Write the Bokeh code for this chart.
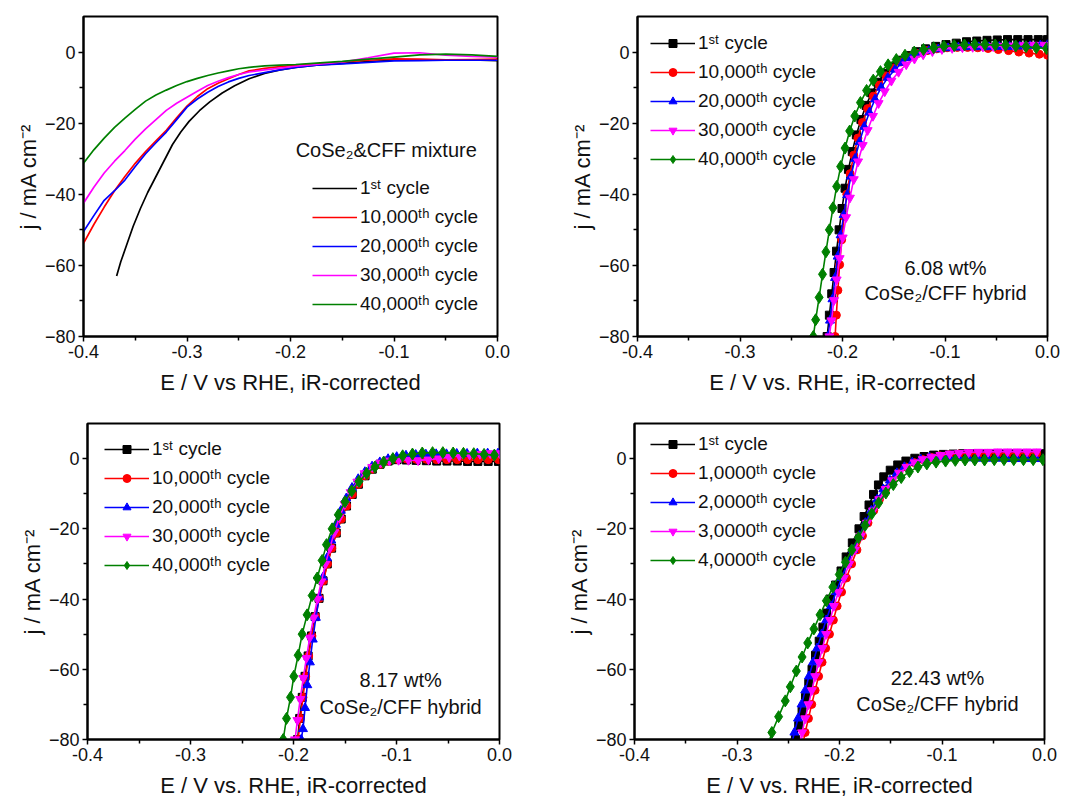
from bokeh.plotting import figure
from bokeh.models import Range1d, FixedTicker, NumeralTickFormatter, Legend, LegendItem, Label
from bokeh.layouts import column, row
from bokeh.embed import file_html
from bokeh.resources import INLINE

FONT = "Liberation Sans"

# ---------------- texts ----------------
x_label_a = "E / V vs RHE, iR-corrected"
x_label_b = "E / V vs. RHE, iR-corrected"
y_label = "j / mA cm⁻²"
x_ticks = [-0.4, -0.3, -0.2, -0.1, 0.0]
x_minor = [-0.35, -0.25, -0.15, -0.05]
y_ticks = [-80, -60, -40, -20, 0]
y_minor = [-70, -50, -30, -10]

labels_std = ["1ˢᵗ cycle", "10,000ᵗʰ cycle", "20,000ᵗʰ cycle", "30,000ᵗʰ cycle", "40,000ᵗʰ cycle"]
labels_d = ["1ˢᵗ cycle", "1,0000ᵗʰ cycle", "2,0000ᵗʰ cycle", "3,0000ᵗʰ cycle", "4,0000ᵗʰ cycle"]
title_a = "CoSe₂&CFF mixture"
note_b = ["6.08 wt%", "CoSe₂/CFF hybrid"]
note_c = ["8.17 wt%", "CoSe₂/CFF hybrid"]
note_d = ["22.43 wt%", "CoSe₂/CFF hybrid"]

# ---------------- panel a: CoSe2 & CFF mixture (lines) ----------------
a_x_black = [-0.368, -0.364, -0.358, -0.352, -0.345, -0.338, -0.330, -0.322, -0.314, -0.306, -0.298, -0.288,
             -0.278, -0.266, -0.254, -0.240, -0.225, -0.210, -0.195, -0.175, -0.150, -0.125, -0.100, -0.075,
             -0.050, -0.025, 0.000]
a_y_black = [-63.0, -59.0, -54.0, -49.0, -44.0, -39.5, -35.0, -30.5, -26.0, -22.5, -19.5, -16.5, -14.0, -11.5,
             -9.5, -7.5, -6.0, -5.0, -4.3, -3.7, -3.2, -2.7, -2.3, -2.2, -2.2, -2.2, -2.4]
a_x = [-0.400, -0.390, -0.380, -0.370, -0.360, -0.350, -0.340, -0.330, -0.320, -0.310, -0.300, -0.290, -0.280,
       -0.270, -0.260, -0.250, -0.240, -0.225, -0.210, -0.195, -0.175, -0.150, -0.125, -0.100, -0.075, -0.050,
       -0.025, 0.000]
a_y_red = [-53.8, -48.5, -43.6, -39.0, -35.0, -31.3, -28.0, -25.0, -22.0, -18.5, -15.2, -12.5, -10.3, -8.8, -7.5,
           -6.3, -5.3, -4.6, -4.1, -3.7, -3.3, -2.8, -2.3, -1.9, -2.0, -2.2, -2.1, -2.0]
a_y_blue = [-50.5, -46.0, -41.7, -39.0, -36.0, -32.2, -28.6, -25.5, -22.5, -19.0, -15.5, -13.2, -11.3, -9.7, -8.4,
            -7.4, -6.6, -5.8, -5.0, -4.3, -3.7, -3.3, -2.9, -2.5, -2.4, -2.3, -2.3, -2.3]
a_y_magenta = [-42.5, -38.0, -34.0, -30.7, -27.7, -24.5, -21.6, -19.0, -16.4, -14.4, -12.7, -11.0, -9.4, -8.2,
               -7.2, -6.3, -5.6, -5.0, -4.5, -4.0, -3.5, -2.8, -1.6, -0.3, -0.2, -0.9, -1.2, -1.4]
a_y_green = [-31.3, -27.5, -24.2, -21.2, -18.6, -16.1, -13.8, -12.1, -10.7, -9.4, -8.3, -7.4, -6.6, -5.9, -5.3,
             -4.7, -4.3, -3.9, -3.7, -3.5, -3.1, -2.6, -2.0, -1.4, -0.8, -0.6, -0.8, -1.2]

# ---------------- panel b: 6.08 wt% ----------------
b_x_black = [-0.2150, -0.2128, -0.2105, -0.2082, -0.2058, -0.2033, -0.2005, -0.1975, -0.1942, -0.1905, -0.1865,
             -0.1820, -0.1770, -0.1715, -0.1655, -0.1590, -0.1520, -0.1445, -0.1365, -0.1280, -0.1190, -0.1090,
             -0.0990, -0.0890, -0.0790, -0.0690, -0.0590, -0.0490, -0.0390, -0.0290, -0.0190, -0.0090, 0.0]
b_y_black = [-80.0, -74.0, -68.0, -62.0, -56.0, -50.0, -44.0, -38.3, -33.0, -28.0, -23.3, -19.0, -15.0, -11.5,
             -8.5, -6.0, -4.0, -2.3, -1.0, 0.1, 0.9, 1.6, 2.1, 2.5, 2.9, 3.1, 3.3, 3.4, 3.5, 3.5, 3.5, 3.5, 3.5]
b_x_red = [-0.2072, -0.2060, -0.2045, -0.2028, -0.2008, -0.1985, -0.1958, -0.1926, -0.1890, -0.1850, -0.1805,
           -0.1755, -0.1700, -0.1640, -0.1575, -0.1505, -0.1430, -0.1350, -0.1265, -0.1175, -0.1080, -0.0980,
           -0.0880, -0.0780, -0.0680, -0.0580, -0.0480, -0.0380, -0.0280, -0.0180, -0.0080, 0.0]
b_y_red = [-80.0, -74.0, -67.0, -59.8, -52.8, -46.2, -40.0, -34.2, -29.0, -24.2, -19.8, -15.9, -12.4, -9.3, -6.7,
           -4.5, -2.8, -1.4, -0.4, 0.4, 0.9, 1.2, 1.3, 1.3, 1.2, 1.0, 0.7, 0.4, 0.0, -0.3, -0.6, -0.9]
b_x_blue = [-0.2142, -0.2122, -0.2098, -0.2073, -0.2047, -0.2018, -0.1988, -0.1955, -0.1918, -0.1878, -0.1835,
            -0.1788, -0.1738, -0.1683, -0.1623, -0.1558, -0.1488, -0.1413, -0.1333, -0.1248, -0.1158, -0.1065,
            -0.0970, -0.0870, -0.0770, -0.0670, -0.0570, -0.0470, -0.0370, -0.0270, -0.0170, -0.0070, 0.0]
b_y_blue = [-80.0, -75.5, -69.5, -63.5, -57.5, -51.5, -45.8, -40.2, -35.0, -30.0, -25.3, -21.0, -17.0, -13.3,
            -10.0, -7.2, -4.9, -3.0, -1.6, -0.5, 0.3, 0.8, 1.1, 1.3, 1.4, 1.4, 1.4, 1.5, 1.5, 1.6, 1.7, 1.9, 2.0]
b_x_magenta = [-0.2128, -0.2108, -0.2083, -0.2057, -0.2028, -0.1998, -0.1965, -0.1928, -0.1890, -0.1848, -0.1803,
               -0.1755, -0.1703, -0.1648, -0.1588, -0.1523, -0.1453, -0.1378, -0.1298, -0.1213, -0.1123, -0.1030,
               -0.0930, -0.0830, -0.0730, -0.0630, -0.0530, -0.0430, -0.0330, -0.0230, -0.0130, -0.0030]
b_y_magenta = [-80.0, -75.5, -69.8, -64.0, -58.0, -52.2, -46.5, -41.0, -35.8, -30.8, -26.2, -22.0, -18.0, -14.4,
               -11.1, -8.1, -5.6, -3.5, -1.9, -0.7, 0.2, 0.8, 1.1, 1.3, 1.4, 1.5, 1.6, 1.7, 1.8, 1.9, 2.0, 2.0]
b_x_green = [-0.2285, -0.2262, -0.2228, -0.2195, -0.2162, -0.2128, -0.2093, -0.2057, -0.2018, -0.1975, -0.1930,
             -0.1880, -0.1825, -0.1765, -0.1700, -0.1630, -0.1555, -0.1475, -0.1390, -0.1300, -0.1210, -0.1110,
             -0.1010, -0.0910, -0.0810, -0.0710, -0.0610, -0.0510, -0.0410, -0.0310, -0.0210, -0.0110, -0.0010]
b_y_green = [-80.0, -75.3, -69.0, -62.5, -56.2, -50.0, -43.8, -37.8, -32.2, -27.0, -22.2, -18.0, -14.2, -10.8,
             -7.9, -5.5, -3.6, -2.1, -0.9, 0.0, 0.7, 1.2, 1.6, 1.8, 2.0, 2.1, 2.1, 2.0, 1.9, 1.7, 1.5, 1.2, 1.0]

# ---------------- panel c: 8.17 wt% ----------------
c_x_black = [-0.1960, -0.1940, -0.1915, -0.1888, -0.1858, -0.1825, -0.1790, -0.1752, -0.1713, -0.1672, -0.1630,
             -0.1585, -0.1537, -0.1485, -0.1430, -0.1370, -0.1305, -0.1235, -0.1160, -0.1080, -0.0995, -0.0905,
             -0.0810, -0.0710, -0.0610, -0.0510, -0.0410, -0.0310, -0.0210, -0.0110, -0.0010]
c_y_black = [-80.0, -74.0, -68.0, -62.0, -56.2, -50.5, -45.0, -39.8, -34.8, -30.0, -25.5, -21.2, -17.2, -13.5,
             -10.2, -7.3, -4.9, -3.0, -1.6, -0.7, -0.3, -0.4, -0.5, -0.6, -0.7, -0.7, -0.7, -0.8, -0.8, -0.8, -0.8]
c_x_red = [-0.1955, -0.1932, -0.1908, -0.1882, -0.1853, -0.1821, -0.1786, -0.1749, -0.1710, -0.1670, -0.1628,
           -0.1583, -0.1535, -0.1483, -0.1428, -0.1368, -0.1303, -0.1233, -0.1158, -0.1078, -0.0993, -0.0903,
           -0.0808, -0.0710, -0.0610, -0.0510, -0.0410, -0.0310, -0.0210, -0.0110, -0.0010]
c_y_red = [-80.0, -74.0, -68.0, -62.0, -56.2, -50.5, -45.0, -39.8, -34.8, -30.0, -25.5, -21.2, -17.2, -13.5,
           -10.2, -7.3, -4.9, -3.0, -1.6, -0.7, -0.2, -0.1, -0.2, -0.2, -0.3, -0.3, -0.3, -0.3, -0.3, -0.3, -0.3]
c_x_blue = [-0.1925, -0.1908, -0.1888, -0.1866, -0.1841, -0.1813, -0.1783, -0.1750, -0.1714, -0.1675, -0.1633,
            -0.1588, -0.1540, -0.1488, -0.1432, -0.1372, -0.1307, -0.1237, -0.1162, -0.1082, -0.0998, -0.0908,
            -0.0813, -0.0715, -0.0615, -0.0515, -0.0415, -0.0315, -0.0215, -0.0115, -0.0015]
c_y_blue = [-80.0, -77.0, -71.0, -64.5, -58.0, -51.5, -45.3, -39.5, -33.8, -28.3, -23.3, -18.8, -14.8, -11.3,
            -8.3, -5.8, -3.8, -2.2, -1.0, -0.1, 0.5, 0.9, 1.1, 1.2, 1.3, 1.3, 1.4, 1.4, 1.5, 1.5, 1.5]
c_x_magenta = [-0.1985, -0.1962, -0.1935, -0.1905, -0.1875, -0.1842, -0.1805, -0.1768, -0.1730, -0.1690, -0.1648,
               -0.1603, -0.1555, -0.1503, -0.1445, -0.1380, -0.1310, -0.1235, -0.1155, -0.1070, -0.0980, -0.0885,
               -0.0790, -0.0690, -0.0590, -0.0490, -0.0390, -0.0290, -0.0190, -0.0090, 0.0]
c_y_magenta = [-80.0, -74.5, -68.5, -62.5, -56.8, -51.0, -45.3, -40.0, -35.0, -30.0, -25.5, -21.0, -16.8, -13.0,
               -9.6, -6.6, -4.2, -2.4, -1.2, -0.6, -0.4, -0.4, -0.5, -0.3, 0.0, 0.4, 0.8, 1.1, 1.3, 1.5, 1.5]
c_x_green = [-0.2100, -0.2068, -0.2029, -0.1997, -0.1955, -0.1916, -0.1868, -0.1819, -0.1770, -0.1722, -0.1680,
             -0.1625, -0.1565, -0.1500, -0.1435, -0.1365, -0.1290, -0.1210, -0.1125, -0.1035, -0.0940, -0.0845,
             -0.0750, -0.0650, -0.0550, -0.0450, -0.0350, -0.0250, -0.0150, -0.0050]
c_y_green = [-80.0, -74.0, -68.0, -62.0, -56.0, -50.0, -44.5, -39.0, -34.0, -29.0, -24.5, -20.0, -16.0, -12.3,
             -9.2, -6.5, -4.2, -2.4, -1.0, 0.0, 0.8, 1.3, 1.6, 1.7, 1.7, 1.6, 1.5, 1.4, 1.2, 1.0]

# ---------------- panel d: 22.43 wt% ----------------
d_x_black = [-0.2445, -0.2430, -0.2398, -0.2365, -0.2332, -0.2300, -0.2268, -0.2234, -0.2198, -0.2162, -0.2127,
             -0.2090, -0.2038, -0.1985, -0.1935, -0.1875, -0.1810, -0.1760, -0.1712, -0.1668, -0.1620, -0.1568,
             -0.1505, -0.1432, -0.1352, -0.1265, -0.1175, -0.1082, -0.0987, -0.0892, -0.0797, -0.0702, -0.0607,
             -0.0512, -0.0417, -0.0322, -0.0227, -0.0132, -0.0037]
d_y_black = [-82.0, -80.0, -76.0, -72.0, -68.0, -64.0, -60.0, -56.0, -52.0, -48.0, -44.0, -40.0, -36.0, -32.0,
             -28.0, -24.0, -20.0, -16.5, -13.2, -10.2, -7.5, -5.2, -3.3, -1.8, -0.7, 0.1, 0.6, 1.0, 1.2, 1.3, 1.4,
             1.4, 1.4, 1.4, 1.4, 1.4, 1.4, 1.4, 1.4]
d_x_red = [-0.2362, -0.2335, -0.2303, -0.2271, -0.2238, -0.2204, -0.2170, -0.2135, -0.2098, -0.2060, -0.2023,
           -0.1980, -0.1932, -0.1882, -0.1830, -0.1776, -0.1722, -0.1666, -0.1610, -0.1550, -0.1487, -0.1420,
           -0.1350, -0.1275, -0.1195, -0.1110, -0.1022, -0.0930, -0.0837, -0.0742, -0.0647, -0.0552, -0.0457,
           -0.0362, -0.0267, -0.0172, -0.0077]
d_y_red = [-82.0, -78.0, -74.0, -70.0, -66.0, -62.0, -58.0, -54.0, -50.0, -46.0, -42.0, -38.0, -34.0, -30.0,
           -26.0, -22.0, -18.3, -14.8, -11.6, -8.7, -6.2, -4.1, -2.4, -1.1, -0.2, 0.4, 0.8, 1.1, 1.3, 1.4, 1.4,
           1.5, 1.5, 1.5, 1.5, 1.5, 1.5]
d_x_blue = [-0.2472, -0.2440, -0.2405, -0.2370, -0.2334, -0.2298, -0.2258, -0.2218, -0.2175, -0.2130, -0.2083,
            -0.2033, -0.1980, -0.1925, -0.1867, -0.1807, -0.1748, -0.1690, -0.1632, -0.1572, -0.1508, -0.1440,
            -0.1367, -0.1290, -0.1208, -0.1122, -0.1030, -0.0935, -0.0840, -0.0745, -0.0650, -0.0555, -0.0460,
            -0.0365, -0.0270, -0.0175, -0.0080]
d_y_blue = [-82.0, -78.0, -74.0, -70.0, -66.0, -62.0, -58.0, -54.0, -50.0, -46.0, -42.0, -38.0, -34.0, -30.0,
            -26.0, -22.0, -18.3, -14.8, -11.6, -8.7, -6.2, -4.1, -2.4, -1.1, -0.2, 0.3, 0.4, 0.3, 0.2, 0.1, 0.0,
            0.0, 0.0, -0.1, -0.1, -0.1, -0.1]
d_x_magenta = [-0.2395, -0.2365, -0.2334, -0.2302, -0.2270, -0.2237, -0.2202, -0.2167, -0.2130, -0.2092, -0.2055,
               -0.2010, -0.1958, -0.1905, -0.1850, -0.1792, -0.1732, -0.1672, -0.1612, -0.1550, -0.1485, -0.1417,
               -0.1345, -0.1268, -0.1187, -0.1103, -0.1015, -0.0925, -0.0833, -0.0740, -0.0645, -0.0550, -0.0455,
               -0.0360, -0.0265, -0.0170, -0.0075]
d_y_magenta = [-82.0, -78.0, -74.0, -70.0, -66.0, -62.0, -58.0, -54.0, -50.0, -46.0, -42.0, -38.0, -34.0, -30.0,
               -26.0, -22.0, -18.3, -14.8, -11.6, -8.7, -6.2, -4.1, -2.4, -1.1, -0.2, 0.5, 1.0, 1.4, 1.6, 1.8, 1.9,
               1.9, 2.0, 2.0, 2.0, 2.0, 2.0]
d_x_green = [-0.2695, -0.2660, -0.2594, -0.2529, -0.2480, -0.2421, -0.2365, -0.2310, -0.2250, -0.2190, -0.2128,
             -0.2065, -0.2002, -0.1942, -0.1880, -0.1815, -0.1750, -0.1685, -0.1618, -0.1548, -0.1475, -0.1398,
             -0.1318, -0.1235, -0.1148, -0.1058, -0.0965, -0.0870, -0.0775, -0.0680, -0.0585, -0.0490, -0.0395,
             -0.0300, -0.0205, -0.0110, -0.0015]
d_y_green = [-81.5, -78.0, -73.5, -69.0, -65.0, -60.5, -56.5, -52.5, -48.5, -44.5, -40.5, -36.6, -33.0, -29.5,
             -26.0, -22.5, -19.0, -15.7, -12.6, -9.8, -7.4, -5.4, -3.7, -2.4, -1.5, -1.0, -0.7, -0.5, -0.4, -0.4,
             -0.4, -0.3, -0.3, -0.3, -0.3, -0.3, -0.3]

COLORS = ["#000000", "#ff0000", "#0000ff", "#ff00ff", "#008000"]
MARKERS = [("square", 8), ("circle", 8), ("triangle", 9), ("inverted_triangle", 9), ("diamond", 12)]


def make_fig(width, height, left, right, top, bottom, xlabel):
    p = figure(width=width, height=height, output_backend="svg", toolbar_location=None,
               x_range=Range1d(-0.4, 0.0), y_range=Range1d(-80, 10),
               min_border_left=left, min_border_right=right, min_border_top=top, min_border_bottom=bottom)
    p.grid.visible = False
    p.outline_line_color = "black"
    p.outline_line_width = 2
    p.background_fill_color = "white"
    p.border_fill_color = "white"
    p.xaxis.ticker = FixedTicker(ticks=x_ticks, minor_ticks=x_minor)
    p.yaxis.ticker = FixedTicker(ticks=y_ticks, minor_ticks=y_minor)
    p.xaxis.formatter = NumeralTickFormatter(format="0.0")
    p.xaxis.axis_label = xlabel
    p.yaxis.axis_label = y_label
    for ax in (p.xaxis[0], p.yaxis[0]):
        ax.axis_line_width = 2
        ax.major_tick_line_width = 1.5
        ax.minor_tick_line_width = 1.5
        ax.major_tick_in = 0
        ax.major_tick_out = 5
        ax.minor_tick_in = 0
        ax.minor_tick_out = 4
        ax.major_label_text_font = FONT
        ax.major_label_text_font_size = "18px"
        ax.major_label_text_color = "#111111"
        ax.axis_label_text_font = FONT
        ax.axis_label_text_font_size = "22px"
        ax.axis_label_text_font_style = "normal"
        ax.axis_label_text_color = "#111111"
        ax.major_label_standoff = 3
    p.xaxis[0].axis_label_standoff = 9
    p.yaxis[0].axis_label_standoff = 1
    return p


def add_legend(p, items, loc):
    lg = Legend(items=items, location=loc, glyph_width=45, glyph_height=20, label_standoff=3, spacing=7,
                padding=0, margin=0, label_text_font=FONT, label_text_font_size="19px", label_height=20,
                label_text_color="#111111", background_fill_alpha=0, border_line_alpha=0)
    p.add_layout(lg)


def add_note(p, x, y1, y2, lines):
    for yy, t in ((y1, lines[0]), (y2, lines[1])):
        p.add_layout(Label(x=x, y=yy, text=t, text_align="center", text_baseline="middle",
                           text_font=FONT, text_font_size="20px", text_color="#111111"))


def marker_panel(p, xs, ys, labels, loc):
    items = []
    for i in range(5):
        mk, sz = MARKERS[i]
        lr = p.line(xs[i], ys[i], line_color=COLORS[i], line_width=1.6)
        sr = p.scatter(xs[i], ys[i], marker=mk, size=sz, fill_color=COLORS[i], line_color=COLORS[i])
        items.append(LegendItem(label=labels[i], renderers=[lr, sr]))
    add_legend(p, items, loc)


# panel a
p1 = make_fig(540, 400, 83, 43, 16, 64, x_label_a)
a_xs = [a_x_black, a_x, a_x, a_x, a_x]
a_ys = [a_y_black, a_y_red, a_y_blue, a_y_magenta, a_y_green]
items1 = []
for i in range(5):
    r = p1.line(a_xs[i], a_ys[i], line_color=COLORS[i], line_width=1.7)
    items1.append(LegendItem(label=labels_std[i], renderers=[r]))
add_legend(p1, items1, (229, 21))
p1.add_layout(Label(x=-0.195, y=-27.6, text=title_a, text_align="left", text_baseline="middle",
                    text_font=FONT, text_font_size="20px", text_color="#111111"))

# panel b
p2 = make_fig(543, 400, 97, 36, 16, 64, x_label_b)
marker_panel(p2, [b_x_black, b_x_red, b_x_blue, b_x_magenta, b_x_green],
             [b_y_black, b_y_red, b_y_blue, b_y_magenta, b_y_green], labels_std, (13, 166))
add_note(p2, -0.0995, -60.6, -67.9, note_b)

# panel c
p3 = make_fig(540, 400, 87, 41, 20, 60, x_label_b)
marker_panel(p3, [c_x_black, c_x_red, c_x_blue, c_x_magenta, c_x_green],
             [c_y_black, c_y_red, c_y_blue, c_y_magenta, c_y_green], labels_std, (17, 163))
add_note(p3, -0.096, -63.1, -70.7, note_c)

# panel d
p4 = make_fig(543, 400, 94, 39, 23, 57, x_label_b)
marker_panel(p4, [d_x_black, d_x_red, d_x_blue, d_x_magenta, d_x_green],
             [d_y_black, d_y_red, d_y_blue, d_y_magenta, d_y_green], labels_d, (16, 168))
add_note(p4, -0.1044, -62.5, -69.9, note_d)

layout = column(row(p1, p2, spacing=0), row(p3, p4, spacing=0), spacing=0)
open("out.html", "w").write(file_html(layout, INLINE))
